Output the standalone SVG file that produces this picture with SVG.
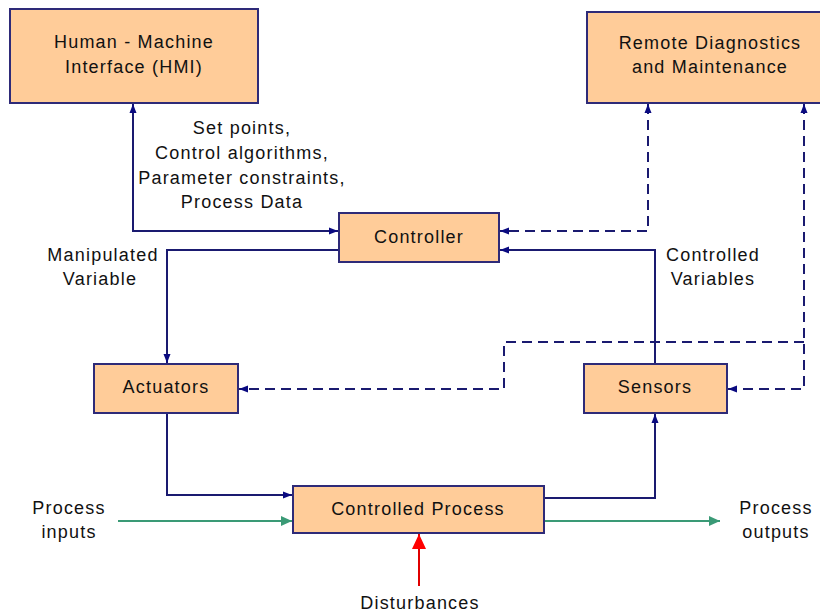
<svg xmlns="http://www.w3.org/2000/svg" width="820" height="612" viewBox="0 0 820 612">
<style>
.box{fill:#FFCC99;stroke:#2E2A78;stroke-width:2}
.t{font-family:"Liberation Sans",Arial,sans-serif;font-size:18px;letter-spacing:1.2px;fill:#111;text-anchor:middle}
.ln{fill:none;stroke:#1A1A70;stroke-width:2}
.ds{fill:none;stroke:#1A1A70;stroke-width:2;stroke-dasharray:10,6}
.gr{fill:none;stroke:#3A9A76;stroke-width:2}
.rd{fill:none;stroke:#E00000;stroke-width:2}
</style>
<defs>
<marker id="a" markerUnits="userSpaceOnUse" markerWidth="10" markerHeight="8" refX="9" refY="4" orient="auto-start-reverse"><path d="M0,0.5 L9,4 L0,7.5 z" fill="#0A0A80"/></marker>
<marker id="g" markerUnits="userSpaceOnUse" markerWidth="12" markerHeight="12" refX="11" refY="5" orient="auto"><path d="M0,0 L11,5 L0,10 z" fill="#3A9A76"/></marker>
<marker id="r" markerUnits="userSpaceOnUse" markerWidth="16" markerHeight="16" refX="15" refY="7" orient="auto"><path d="M0,0 L15,7 L0,14 z" fill="#FF0000"/></marker>
</defs>
<rect width="820" height="612" fill="#fff"/>
<g id="connectors">
<path class="ln" d="M133,104 V231 H338" marker-start="url(#a)" marker-end="url(#a)"/>
<path class="ln" d="M339,250 H167 V363" marker-end="url(#a)"/>
<path class="ln" d="M167,414 V495 H292" marker-end="url(#a)"/>
<path class="ln" d="M545,498 H655 V414" marker-end="url(#a)"/>
<path class="ln" d="M655,364 V250 H500" marker-end="url(#a)"/>
<path class="ds" d="M648,104 V231 H500" marker-start="url(#a)" marker-end="url(#a)"/>
<path class="ds" d="M804,104 V389 H728" marker-start="url(#a)" marker-end="url(#a)"/>
<path class="ds" d="M804,342 H504 V389 H239" marker-end="url(#a)"/>
<path class="gr" d="M118,521 H292" marker-end="url(#g)"/>
<path class="gr" d="M545,521 H720" marker-end="url(#g)"/>
<path class="rd" d="M419,586 V534" marker-end="url(#r)"/>
</g>
<g id="hmi"><rect class="box" x="10" y="9" width="248" height="94"/><text class="t" x="134" y="48">Human - Machine</text><text class="t" x="134" y="73">Interface (HMI)</text></g>
<g id="remote"><rect class="box" x="587" y="12" width="247" height="91"/><text class="t" x="710" y="49">Remote Diagnostics</text><text class="t" x="710" y="73">and Maintenance</text></g>
<g id="controller"><rect class="box" x="339" y="213" width="160" height="49"/><text class="t" x="419" y="243">Controller</text></g>
<g id="actuators"><rect class="box" x="94" y="364" width="144" height="49"/><text class="t" x="166" y="393">Actuators</text></g>
<g id="sensors"><rect class="box" x="584" y="364" width="143" height="49"/><text class="t" x="655" y="393">Sensors</text></g>
<g id="process"><rect class="box" x="293" y="486" width="251" height="47"/><text class="t" x="418" y="515">Controlled Process</text></g>
<g id="labels">
<text class="t" x="103" y="261">Manipulated</text>
<text class="t" x="100" y="285">Variable</text>
<text class="t" x="713" y="261">Controlled</text>
<text class="t" x="713" y="285">Variables</text>
<text class="t" x="242" y="134">Set points,</text>
<text class="t" x="242" y="159">Control algorithms,</text>
<text class="t" x="242" y="184">Parameter constraints,</text>
<text class="t" x="242" y="208">Process Data</text>
<text class="t" x="69" y="514">Process</text>
<text class="t" x="69" y="538">inputs</text>
<text class="t" x="776" y="514">Process</text>
<text class="t" x="776" y="538">outputs</text>
<text class="t" x="420" y="609">Disturbances</text>
</g>
</svg>
